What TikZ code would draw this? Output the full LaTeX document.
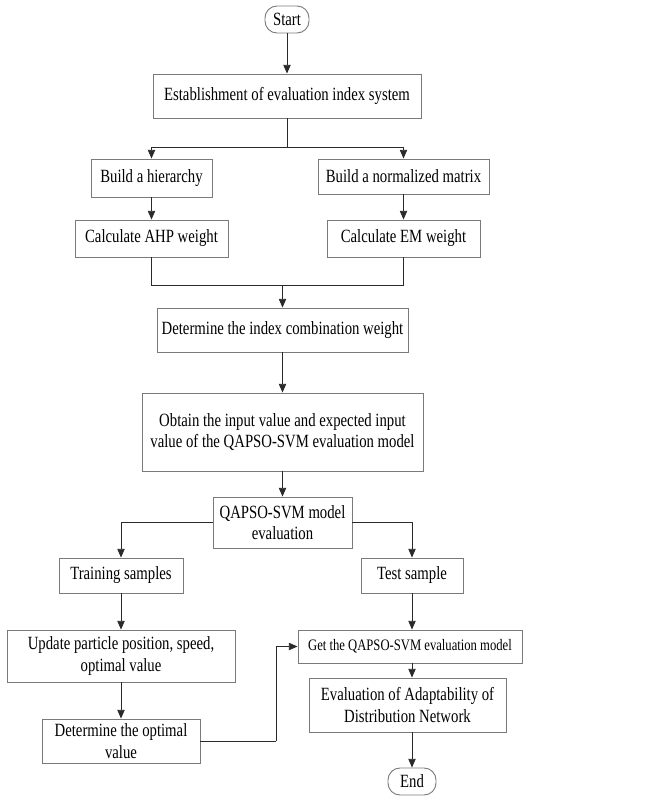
\documentclass[tikz,border=0pt]{standalone}
\usepackage{fontspec}
\setmainfont{Liberation Serif}[FakeStretch=0.79]
\usetikzlibrary{arrows.meta}

\definecolor{boxGray}{HTML}{7A7A7A}
\definecolor{lineGray}{HTML}{2A2A2A}

\tikzset{
  box/.style={draw=boxGray,line width=0.7pt,align=center,inner sep=0pt},
  term/.style={box,rounded corners=9pt},
  link/.style={lineGray,line width=0.6pt},
  arr/.style={link,-{Triangle[length=6.5pt,width=5.5pt]}}
}

\begin{document}
\begin{tikzpicture}[x=0.75pt,y=-0.75pt,font=\fontsize{14pt}{16pt}\selectfont]
  \useasboundingbox (0,0) rectangle (646,796);

  % upper part
  \node[term,minimum width=44*0.75pt,minimum height=27*0.75pt] (start) at (287,19.5) {Start};
  \node[box,minimum width=268*0.75pt,minimum height=44*0.75pt] (est) at (287,96)
    {Establishment of evaluation index system};
  \node[box,minimum width=121*0.75pt,minimum height=38*0.75pt] (hier) at (151.5,178)
    {Build a hierarchy};
  \node[box,minimum width=171*0.75pt,minimum height=35*0.75pt] (norm) at (403.5,176.5)
    {Build a normalized matrix};
  \node[box,minimum width=153*0.75pt,minimum height=37*0.75pt] (ahp) at (151.5,238.5)
    {Calculate AHP weight};
  \node[box,minimum width=153*0.75pt,minimum height=37*0.75pt] (em) at (403.5,238.5)
    {Calculate EM weight};
  \node[box,minimum width=251*0.75pt,minimum height=44*0.75pt] (comb) at (282.5,330)
    {Determine the index combination weight};
  \node[box,minimum width=281*0.75pt,minimum height=78*0.75pt] (obtain) at (282.5,432)
    {Obtain the input value and expected input\\value of the QAPSO-SVM evaluation model};
  \node[box,minimum width=139*0.75pt,minimum height=51*0.75pt] (qapso) at (282.5,522.5)
    {QAPSO-SVM model\\evaluation};

  % lower part
  \node[box,minimum width=124*0.75pt,minimum height=35*0.75pt] (train) at (121,575.5)
    {Training samples};
  \node[box,minimum width=102*0.75pt,minimum height=35*0.75pt] (test) at (412,575.5)
    {Test sample};
  \node[box,minimum width=228*0.75pt,minimum height=52*0.75pt] (update) at (121,656)
    {Update particle position, speed,\\optimal value};
  \node[box,minimum width=158*0.75pt,minimum height=44*0.75pt] (optv) at (121,741)
    {Determine the optimal\\value};
  \node[box,minimum width=224*0.75pt,minimum height=33*0.75pt,
        font=\fontsize{12pt}{14pt}\selectfont] (getm) at (410,646.5)
    {Get the QAPSO-SVM evaluation model};
  \node[box,minimum width=197*0.75pt,minimum height=54*0.75pt] (evalad) at (407.5,705)
    {Evaluation of Adaptability of\\Distribution Network};
  \node[term,minimum width=48*0.75pt,minimum height=27*0.75pt] (end) at (412,781.5) {End};

  \coordinate (split1) at (287,147);
  \coordinate (join1) at (282.5,285);
  \coordinate (bend1) at (276,741);

  \draw[arr] (start) -- (est);
  \draw[link] (est) -- (split1);
  \draw[arr] (split1) -| (hier);
  \draw[arr] (split1) -| (norm);
  \draw[arr] (hier) -- (ahp);
  \draw[arr] (norm) -- (em);
  \draw[link] (ahp) |- (join1);
  \draw[link] (em) |- (join1);
  \draw[arr] (join1) -- (comb);
  \draw[arr] (comb) -- (obtain);
  \draw[arr] (obtain) -- (qapso);
  \draw[arr] (qapso.west) -| (train);
  \draw[arr] (qapso.east) -| (test);
  \draw[arr] (train) -- (update);
  \draw[arr] (update) -- (optv);
  \draw[link] (optv.east) -- (bend1);
  \draw[arr] (bend1) |- (getm.west);
  \draw[arr] (test) -- (test |- getm.north);
  \draw[arr] (test |- getm.south) -- (test |- evalad.north);
  \draw[arr] (test |- evalad.south) -- (end);
\end{tikzpicture}
\end{document}
